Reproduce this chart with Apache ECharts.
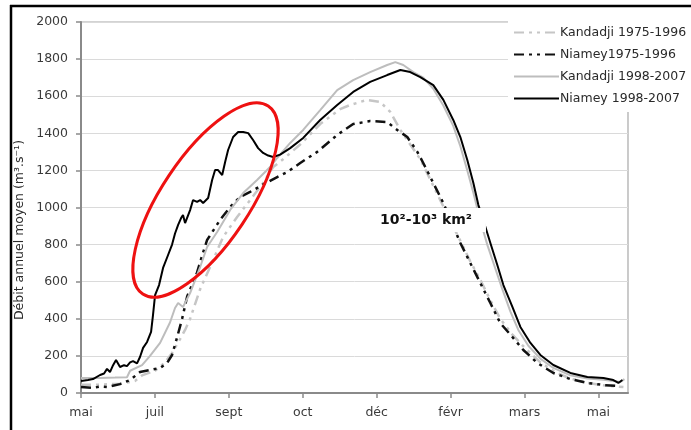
<!DOCTYPE html>
<html>
<head>
<meta charset="utf-8">
<script src="https://cdn.jsdelivr.net/npm/echarts@6/dist/echarts.min.js"></script>
<style>
html,body{margin:0;padding:0;background:#fff;}
#chart{width:691px;height:430px;}
</style>
</head>
<body>
<div id="chart"></div>
<script>
// Tick labels (x axis, positions in day-index units) 
const monthLabels = ['mai','juil','sept','oct','déc','févr','mars','mai'];
const monthTicks = [0,50,100,150,200,250,300,350];
const yTicks = [0,200,400,600,800,1000,1200,1400,1600,1800,2000];

// Niamey 1998-2007
const tNiamey98 = [0,4.7,8.1,12.9,15.6,17.6,19.6,21.7,23.7,26.4,29.1,31.1,33.2,35.2,37.9,39.9,42.0,44.7,47.4,48.7,50.1,52.8,55.5,58.9,61.6,63.6,65.7,67.7,69.0,70.4,73.8,75.8,78.5,80.6,82.6,86.0,88.7,90.7,92.7,95.5,97.5,99.5,102.9,106.3,109.7,113.1,116.4,119.8,123.2,126.6,130.0,134.7,141.5,150.3,161.8,173.3,184.1,195.6,207.1,216.0,222.7,229.5,238.3,245.1,251.8,256.6,261.3,265.4,268.8,272.1,276.9,281.6,285.7,291.8,297.2,304.0,310.7,319.5,331.0,342.5,353.4,360.1,363.5,366.2];
const vNiamey98 = [65,70,75,97,105,130,113,150,178,140,150,145,165,172,160,194,243,275,329,420,528,582,674,744,800,860,906,943,960,916,986,1040,1030,1040,1024,1051,1148,1202,1202,1175,1245,1310,1380,1407,1407,1401,1364,1320,1294,1280,1272,1285,1320,1375,1472,1553,1623,1677,1714,1741,1730,1703,1660,1580,1472,1380,1256,1132,1013,933,809,690,582,464,356,270,205,151,108,86,81,70,54,70];

// Kandadji 1998-2007
const tKandadji98 = [0,12.9,23.0,31.1,33.2,41.3,46.7,53.5,60.2,63.6,65.7,69.0,73.8,80.6,85.3,92.1,100.9,109.7,119.1,127.9,132.7,141.5,150.3,161.8,173.3,184.1,195.6,207.1,212.6,218.0,224.8,231.5,238.3,245.1,251.8,256.6,261.3,265.4,270.1,274.8,280.3,285.0,290.4,295.8,302.6,310.7,319.5,331.0,342.5,353.4,360.1,364.9,367.6];
const vKandadji98 = [81,81,83,85,120,150,200,270,380,458,485,464,539,679,787,868,987,1078,1148,1218,1267,1348,1418,1525,1633,1687,1730,1768,1784,1768,1730,1700,1640,1550,1440,1330,1200,1080,930,800,670,560,440,340,255,185,135,95,78,72,65,60,75];

// Niamey 1975-1996
const tNiamey75 = [0,8.1,12.9,17.6,26.4,33.2,39.9,46.7,53.5,58.2,61.6,65.0,68.4,71.8,78.5,81.9,85.3,94.1,100.9,107.6,114.4,124.6,132.7,139.5,148.3,159.8,173.3,184.1,195.6,207.1,213.9,220.7,227.5,231.5,238.3,245.1,256.6,263.3,270.1,276.9,283.6,291.8,299.2,308.7,319.5,331.0,342.5,353.4,362.8];
const vNiamey75 = [32,27,35,32,48,70,113,124,135,162,205,300,400,520,650,740,825,933,1003,1057,1084,1130,1164,1191,1240,1300,1391,1450,1466,1461,1418,1380,1300,1240,1132,1024,809,701,593,485,377,302,232,162,108,75,54,43,38];

// Kandadji 1975-1996
const tKandadji75 = [0,12.9,26.4,36.5,41.3,50.1,56.9,61.6,67.0,70.4,73.8,80.6,87.3,96.1,105.6,114.4,123.2,130.0,136.7,148.3,161.8,175.3,182.1,193.6,202.4,209.2,216.0,222.7,229.5,236.3,243.0,249.8,256.6,263.3,270.1,276.9,283.6,291.8,300.6,310.7,320.9,331.0,342.5,353.4,366.9];
const vKandadji75 = [45,45,50,65,95,120,165,216,290,340,400,560,679,841,949,1040,1132,1218,1260,1340,1450,1530,1553,1580,1569,1515,1418,1340,1260,1150,1040,930,820,710,610,500,400,315,240,165,112,78,55,42,32];

const pairs = (t, v) => t.map((x, i) => [x, v[i]]);
const dashPattern = [10, 5, 3, 5, 3, 5];
const FONT = 'DejaVu Sans';

const chart = echarts.init(document.getElementById('chart'), null, {renderer: 'canvas'});
chart.setOption({
  backgroundColor: '#ffffff',
  animation: false,
  grid: {left: 81, right: 63, top: 22, bottom: 37, show: true, borderColor: '#a8a8a8', borderWidth: 1.2, backgroundColor: 'transparent'},
  xAxis: {
    type: 'value', min: 0, max: 370, interval: 50,
    axisLine: {show: true, onZero: false, lineStyle: {color: '#8a8a8a', width: 2}},
    axisTick: {show: true, length: 5, inside: false, customValues: monthTicks, lineStyle: {color: '#8a8a8a', width: 1.5}},
    splitLine: {show: false},
    axisLabel: {
      customValues: monthTicks, margin: 13, color: '#3a3a3a', fontFamily: FONT, fontSize: 12.5,
      formatter: v => { const i = monthTicks.indexOf(v); return i >= 0 ? monthLabels[i] : ''; }
    }
  },
  yAxis: {
    type: 'value', min: 0, max: 2000, interval: 200,
    axisLine: {show: true, lineStyle: {color: '#8a8a8a', width: 2}},
    axisTick: {show: true, length: 5, lineStyle: {color: '#8a8a8a', width: 1.5}},
    splitLine: {show: true, lineStyle: {color: '#dadada', width: 1}},
    axisLabel: {margin: 13, color: '#3a3a3a', fontFamily: FONT, fontSize: 12.5,
      formatter: v => yTicks.indexOf(v) >= 0 ? String(v) : ''}
  },
  legend: {
    orient: 'vertical', left: 508, top: 18,
    padding: [8, 10, 7, 5],
    backgroundColor: '#ffffff',
    itemWidth: 45, itemHeight: 14, itemGap: 9,
    itemStyle: {opacity: 0},
    textStyle: {fontFamily: FONT, fontSize: 12.5, color: '#2a2a2a', padding: [0, 0, 0, -4]},
    data: ['Kandadji 1975-1996', 'Niamey1975-1996', 'Kandadji 1998-2007', 'Niamey 1998-2007']
  },
  series: [
    {name: 'Kandadji 1975-1996', type: 'line', symbol: 'none', data: pairs(tKandadji75, vKandadji75),
      lineStyle: {color: '#c6c6c6', width: 2.5, type: dashPattern}, itemStyle: {color: '#c6c6c6'}, z: 2},
    {name: 'Niamey1975-1996', type: 'line', symbol: 'none', data: pairs(tNiamey75, vNiamey75),
      lineStyle: {color: '#111111', width: 2.5, type: dashPattern}, itemStyle: {color: '#111111'}, z: 3},
    {name: 'Kandadji 1998-2007', type: 'line', symbol: 'none', data: pairs(tKandadji98, vKandadji98),
      lineStyle: {color: '#bdbdbd', width: 2}, itemStyle: {color: '#bdbdbd'}, z: 4},
    {name: 'Niamey 1998-2007', type: 'line', symbol: 'none', data: pairs(tNiamey98, vNiamey98),
      lineStyle: {color: '#000000', width: 2}, itemStyle: {color: '#000000'}, z: 5}
  ],
  graphic: [
    {type: 'line', shape: {x1: 10, y1: 6, x2: 691, y2: 6}, style: {stroke: '#000', lineWidth: 2.5}, z: 100},
    {type: 'line', shape: {x1: 11, y1: 5, x2: 11, y2: 430}, style: {stroke: '#000', lineWidth: 2.5}, z: 100},
    {type: 'text', x: 20, y: 230, rotation: Math.PI / 2,
      style: {text: 'Débit annuel moyen (m³.s⁻¹)', fontFamily: FONT, fontSize: 12.5, fill: '#2a2a2a', align: 'center', verticalAlign: 'middle'}, z: 100},
    {type: 'text', x: 426, y: 220,
      style: {text: '10²-10³ km²', fontFamily: FONT, fontWeight: 'bold', fontSize: 14, fill: '#111', align: 'center', verticalAlign: 'middle',
        backgroundColor: '#ffffff', padding: [5, 14, 5, 14]}, z: 100},
    {type: 'ellipse', x: 205.5, y: 200, rotation: 56.3 * Math.PI / 180,
      shape: {cx: 0, cy: 0, rx: 113, ry: 44},
      style: {fill: 'none', stroke: '#ee1111', lineWidth: 3}, z: 110}
  ]
});
</script>
</body>
</html>
